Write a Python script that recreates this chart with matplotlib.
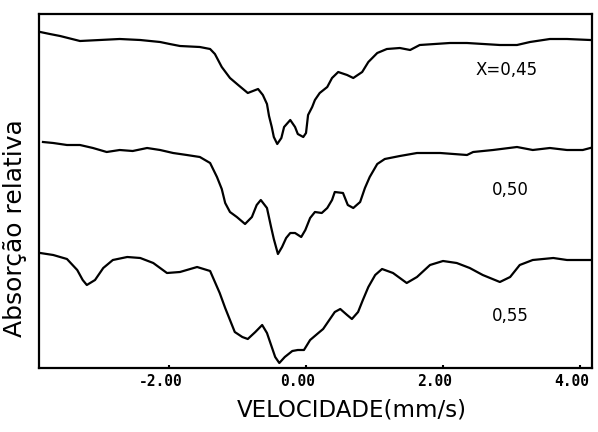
import numpy as np
import matplotlib as mpl
mpl.use("Agg")
from matplotlib import pyplot as plt
from matplotlib.transforms import ScaledTranslation

# velocity (mm/s) and relative absorption (arb. units)
vel_045 = [-3.88, -3.74, -3.59, -3.30, -3.01, -2.72, -2.42, -2.13, -1.99, -1.84, -1.55, -1.40,
           -1.33, -1.23, -1.11, -0.99, -0.85, -0.70, -0.63, -0.57, -0.54, -0.50, -0.47, -0.42,
           -0.36, -0.32, -0.23, -0.16, -0.12, -0.04, 0.00, 0.03, 0.09, 0.13, 0.20, 0.31, 0.38,
           0.47, 0.60, 0.69, 0.82, 0.91, 1.04, 1.18, 1.37, 1.52, 1.66, 2.10, 2.35, 2.83, 3.08,
           3.27, 3.56, 3.81, 4.15]
abs_045 = [33.6, 33.4, 33.2, 32.7, 32.8, 32.9, 32.8, 32.6, 32.4, 32.2, 32.1, 31.9,
           31.4, 30.1, 29.0, 28.3, 27.5, 27.9, 27.3, 26.4, 25.2, 24.1, 23.1, 22.4,
           23.0, 24.1, 24.8, 24.1, 23.4, 23.1, 23.5, 25.3, 26.1, 26.8, 27.5, 28.1, 29.0,
           29.6, 29.3, 29.0, 29.6, 30.6, 31.5, 31.9, 32.0, 31.8, 32.3, 32.5, 32.5, 32.3, 32.3,
           32.6, 32.9, 32.9, 32.8]

vel_050 = [-3.84, -3.69, -3.49, -3.30, -3.11, -2.91, -2.72, -2.53, -2.32, -2.13, -1.94, -1.74,
           -1.55, -1.40, -1.30, -1.23, -1.18, -1.11, -1.01, -0.89, -0.79, -0.72, -0.66, -0.57,
           -0.51, -0.47, -0.41, -0.35, -0.29, -0.23, -0.16, -0.07, -0.01, 0.06, 0.13, 0.23,
           0.31, 0.38, 0.42, 0.54, 0.61, 0.69, 0.79, 0.86, 0.93, 1.04, 1.15, 1.37, 1.62, 1.96,
           2.35, 2.44, 2.73, 3.08, 3.31, 3.56, 3.81, 4.04, 4.15]
abs_050 = [22.6, 22.5, 22.3, 22.3, 22.0, 21.6, 21.8, 21.7, 22.0, 21.8, 21.5, 21.3,
           21.1, 20.5, 19.1, 17.9, 16.5, 15.6, 15.1, 14.4, 15.1, 16.3, 16.8, 16.0,
           14.1, 12.9, 11.4, 12.1, 13.0, 13.5, 13.5, 13.1, 13.8, 15.0, 15.6, 15.5,
           16.0, 16.8, 17.6, 17.5, 16.3, 16.0, 16.6, 18.0, 19.1, 20.4, 20.9, 21.2, 21.5, 21.5,
           21.3, 21.6, 21.8, 22.1, 21.8, 22.0, 21.8, 21.8, 22.0]

vel_055 = [-3.88, -3.69, -3.49, -3.34, -3.26, -3.20, -3.08, -2.96, -2.82, -2.61, -2.42, -2.23,
           -2.03, -1.84, -1.59, -1.40, -1.33, -1.26, -1.18, -1.11, -1.04, -0.93, -0.85, -0.74,
           -0.64, -0.57, -0.51, -0.45, -0.39, -0.31, -0.20, -0.12, -0.03, 0.06, 0.18, 0.25,
           0.32, 0.42, 0.50, 0.60, 0.67, 0.76, 0.83, 0.91, 1.01, 1.11, 1.27, 1.37, 1.47, 1.62,
           1.81, 2.00, 2.20, 2.39, 2.58, 2.83, 2.98, 3.12, 3.31, 3.61, 3.81, 4.15]
abs_055 = [11.5, 11.3, 10.9, 9.8, 8.8, 8.3, 8.8, 10.0, 10.8, 11.1, 11.0, 10.5,
           9.5, 9.6, 10.1, 9.7, 8.6, 7.5, 6.0, 4.8, 3.6, 3.1, 2.9, 3.6,
           4.3, 3.5, 2.3, 1.1, 0.5, 1.1, 1.7, 1.8, 1.8, 2.8, 3.5, 3.9,
           4.6, 5.6, 5.9, 5.3, 4.9, 5.6, 6.8, 8.1, 9.3, 9.9, 9.5, 9.0, 8.5, 9.1,
           10.3, 10.7, 10.5, 10.0, 9.3, 8.6, 9.1, 10.3, 10.8, 11.0, 10.8, 10.8]

curve_labels = ["X=0,45", "0,50", "0,55"]
label_pos = [(2.93, 29.8), (2.98, 17.8), (2.98, 5.2)]

xticks = [-2, 0, 2, 4]
xticklabels = ["-2.00", "0.00", "2.00", "4.00"]

fig = plt.figure(figsize=(5.98, 4.32), dpi=100)
ax = fig.add_axes([39/598, 1-368/432, (592-39)/598, (368-14)/432])

for v, a in [(vel_045, abs_045), (vel_050, abs_050), (vel_055, abs_055)]:
    ax.plot(v, a, color="black", linewidth=1.6, solid_joinstyle="round")

for txt, (x, y) in zip(curve_labels, label_pos):
    ax.text(x, y, txt, ha="center", va="center", fontsize=12, color="black")

ax.set_xlim(-3.898, 4.175)
ax.set_ylim(0, 35.4)
ax.set_yticks([])
ax.set_xticks(xticks)
ax.set_xticklabels(xticklabels, family="DejaVu Sans Mono", fontweight="bold", fontsize=10.5)
ax.tick_params(axis="x", direction="in", length=2, width=1.5, pad=4)
offset = ScaledTranslation(-8/100, 0, fig.dpi_scale_trans)
for lab in ax.get_xticklabels():
    lab.set_transform(lab.get_transform() + offset)
for s in ax.spines.values():
    s.set_linewidth(1.6)

fig.text(352/598, 1-410/432, "VELOCIDADE(mm/s)", ha="center", va="center", fontsize=16.5)
fig.text(15/598, 1-228/432, "Absorção relativa", ha="center", va="center",
         rotation=90, fontsize=18)

fig.savefig("out.png", dpi=100)
